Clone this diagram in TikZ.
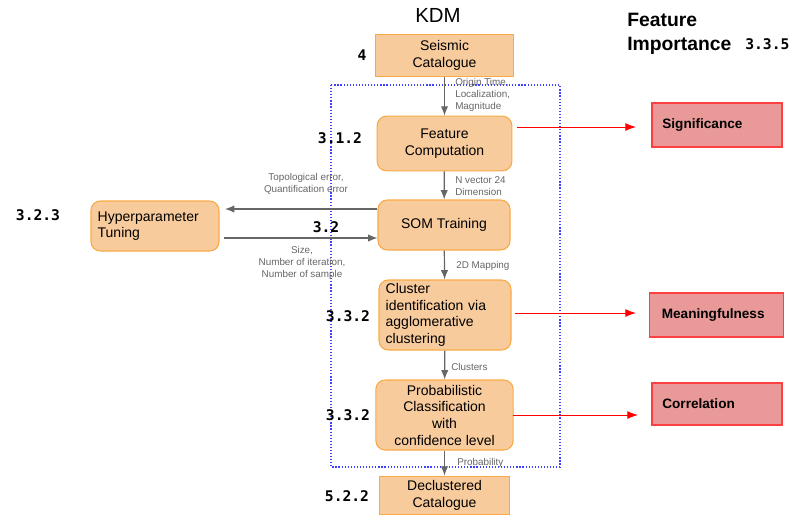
\documentclass[tikz,border=0pt]{standalone}
\usepackage{fontspec}
\setmainfont{Liberation Sans}
\newfontfamily\numfont{DejaVu Sans Mono}
\usetikzlibrary{arrows.meta}
\definecolor{boxfill}{HTML}{F8CB9C}
\definecolor{boxline}{HTML}{F9AA45}
\definecolor{redfill}{HTML}{EA9999}
\definecolor{redline}{HTML}{FF4040}
\definecolor{graytxt}{HTML}{666666}
\definecolor{dotblue}{HTML}{4040FF}
\tikzset{
  px/.style={x=0.75pt,y=-0.75pt},
  obox/.style={draw=boxline,fill=boxfill,line width=0.8pt,inner sep=0pt,font=\fontsize{10.5}{12.5}\selectfont,align=center},
  rbox/.style={obox,rounded corners=7pt},
  impbox/.style={draw=redline,fill=redfill,line width=0.8pt,inner sep=0pt,font=\fontsize{10.2}{12}\selectfont\bfseries,align=left,text width=82pt},
  garrow/.style={draw=graytxt,line width=0.9pt,-{Latex[length=7pt,width=5.5pt]}},
  rarrow/.style={draw=red,line width=0.7pt,-{Latex[length=8pt,width=6pt]}},
  lbl/.style={text=graytxt,font=\fontsize{7.4}{9}\selectfont,inner sep=0pt},
  secnum/.style={font=\numfont\bfseries\fontsize{11}{12}\selectfont,inner sep=0pt},
}
\begin{document}
\begin{tikzpicture}[px]
\useasboundingbox (0,0) rectangle (795,519);
% dotted frame
\draw[dotblue,line width=0.9pt,dash pattern=on 0.9pt off 1.4pt] (331,85) rectangle (560,467);
% title
\node[font=\fontsize{15.3}{17}\selectfont,inner sep=0pt] (kdm) at (438,15) {KDM};
\node[font=\fontsize{14.5}{18}\selectfont\bfseries,align=left,anchor=north west,inner sep=0pt] (fi) at (627,13) {Feature\\Importance};
\node[secnum,anchor=west] (n335) at (745,44) {3.3.5};
% main boxes
\node[obox,minimum width=103pt,minimum height=32pt] (seis) at (444.5,55.5) {Seismic\\Catalogue};
\node[rbox,minimum width=101pt,minimum height=41pt] (feat) at (444.5,143.5) {Feature\\Computation};
\node[rbox,minimum width=99pt,minimum height=37.5pt] (som) at (444,225) {SOM Training};
\node[rbox,minimum width=96pt,minimum height=37.5pt,align=left,text width=86pt] (hyp) at (155,226) {Hyperparameter\\Tuning};
\node[rbox,minimum width=99pt,minimum height=52.5pt,align=left,text width=89pt] (clus) at (445,315) {Cluster\\identification via\\agglomerative\\clustering};
\node[rbox,minimum width=103pt,minimum height=52.5pt] (prob) at (444.5,415) {Probabilistic\\Classification\\with\\confidence level};
\node[obox,minimum width=98pt,minimum height=29pt] (decl) at (444.5,495.5) {Declustered\\Catalogue};
% importance boxes
\node[impbox,minimum width=97.5pt,minimum height=33pt] (sig) at (717,125) {Significance};
\node[impbox,minimum width=100pt,minimum height=33pt] (mean) at (716.5,315) {Meaningfulness};
\node[impbox,minimum width=97.5pt,minimum height=31.5pt] (corr) at (717,404) {Correlation};
% section numbers
\node[secnum] (n4) at (362,55) {4};
\node[secnum] (n312) at (340,138) {3.1.2};
\node[secnum] (n32) at (326,227) {3.2};
\node[secnum] (n323) at (38,215) {3.2.3};
\node[secnum] (n332a) at (348,316) {3.3.2};
\node[secnum] (n332b) at (348,415) {3.3.2};
\node[secnum] (n522) at (347,496) {5.2.2};
% vertical arrows
\draw[garrow] (seis) -- (feat);
\draw[garrow] (feat) -- (som);
\draw[garrow] (som) -- (clus);
\draw[garrow] (clus) -- (prob);
\draw[garrow] (prob) -- (decl);
% labels
\node[lbl,anchor=north west,align=left] (l1) at (455,78) {Origin Time,\\Localization,\\Magnitude};
\node[lbl,anchor=north west,align=left] (l2) at (455,176) {N vector 24\\Dimension};
\node[lbl,anchor=west] (l3) at (456,266) {2D Mapping};
\node[lbl,anchor=west] (l4) at (451,367) {Clusters};
\node[lbl,anchor=west] (l5) at (457,463) {Probability};
\node[lbl,align=center] (l6) at (306,184) {Topological error,\\Quantification error};
\node[lbl,align=center] (l7) at (302,263) {Size,\\Number of iteration,\\Number of sample};
% horizontal gray arrows
\coordinate (hypin) at (225,209);
\coordinate (hypout) at (224,238);
\draw[garrow] (som.west |- hypin) -- (hypin);
\draw[garrow] (hypout) -- (som.west |- hypout);
% red arrows
\coordinate (s1) at (517,127);
\coordinate (e1) at (636,127);
\coordinate (s2) at (515,313);
\coordinate (e2) at (636,313);
\coordinate (s3) at (513,415);
\coordinate (e3) at (638,415);
\draw[rarrow] (s1) -- (e1);
\draw[rarrow] (s2) -- (e2);
\draw[rarrow] (s3) -- (e3);
\end{tikzpicture}
\end{document}
